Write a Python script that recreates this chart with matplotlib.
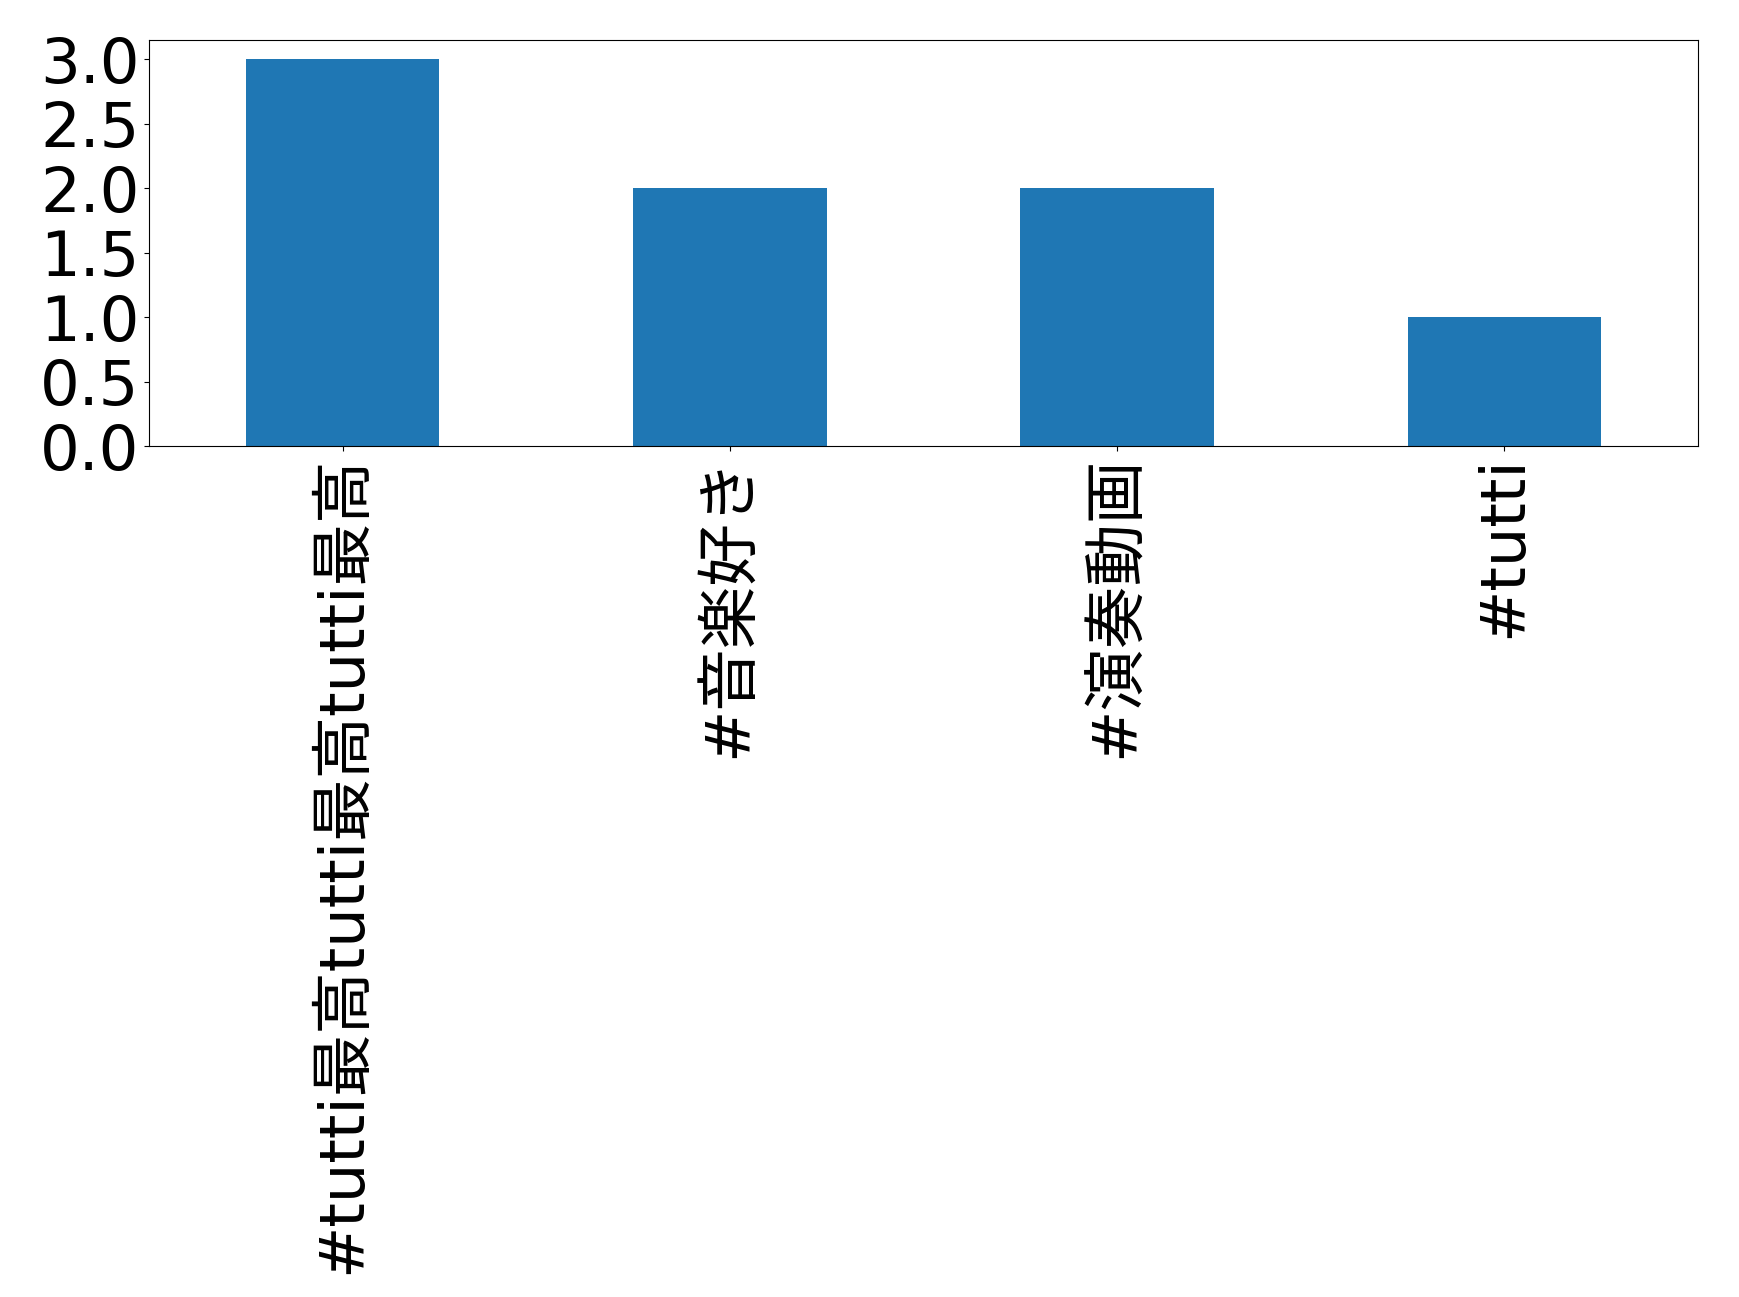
import matplotlib
matplotlib.use('Agg')
import matplotlib.pyplot as plt
import numpy as np

# hashtag counts
tags = ["#tutti最高tutti最高tutti最高", "#音楽好き", "#演奏動画", "#tutti"]
counts = [3, 2, 2, 1]

# DejaVu for latin and digits, CJK font for the rest
plt.rcParams['font.family'] = ['DejaVu Sans', 'Noto Sans CJK JP']

fig = plt.figure(figsize=(17.39, 12.97), dpi=100)
ax = fig.add_subplot(111)
fig.subplots_adjust(left=149/1739, right=1698/1739, top=1-40/1297, bottom=1-446/1297)

x = np.arange(len(tags))
ax.bar(x, counts, width=0.5, color='#1f77b4')
ax.set_xlim(-0.5, len(tags) - 0.5)
ax.set_ylim(0, max(counts) * 1.05)
ax.set_xticks(x)
ax.set_xticklabels(tags, rotation=90, fontsize=45)
ax.set_yticks(np.arange(0, 3.01, 0.5))
ax.tick_params(axis='y', labelsize=45)

plt.savefig("out.png", dpi=100)
plt.close()
